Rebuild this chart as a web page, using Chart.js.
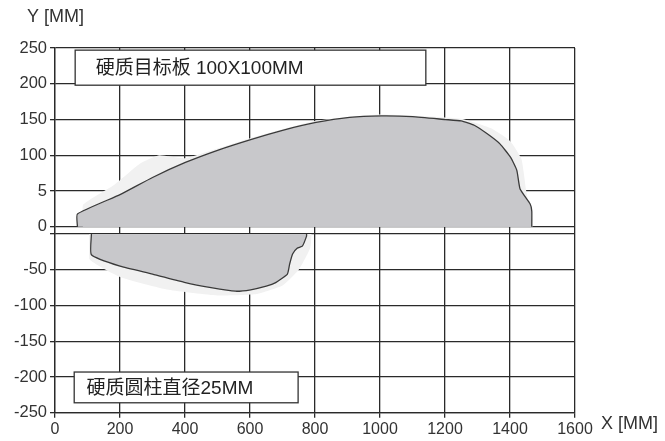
<!DOCTYPE html>
<html>
<head>
<meta charset="utf-8">
<script src="https://cdn.jsdelivr.net/npm/chart.js@4.4.1/dist/chart.umd.min.js"></script>
<style>
  html,body{margin:0;padding:0;background:#fff}
  #wrap{width:665px;height:441px}
</style>
</head>
<body>
<div id="wrap"><canvas id="c" width="665" height="441"></canvas></div>
<script>
// outline of the plate zone (upper half), mm
const topX=[69,69,200,300,401,500,602,700,803,906,1004,1100,1201,1250,1290,1330,1369,1402,1421,1431,1462,1467,1467]
const topY=[0,18,45,69,90,107,122,135,146,153,155,154,150,148,142,130,116,97,79,53,32,22,0]
// outline of the cylinder zone (lower half), mm
const botX=[112,112,200,300,401,480,555,602,650,679,715,722,731,745,761,774,774]
const botY=[0,-29,-45,-56,-68,-75,-80,-78,-73,-68,-56,-42,-28,-20,-17,-3,0]
// faint halo around the zones
const haloTopX=[85,85,180,260,320,400,600,800,1000,1250,1340,1400,1435,1450,1470]
const haloTopY=[0,30,58,88,100,96,124,148,157,151,138,120,95,50,0]
const haloBotX=[105,105,200,350,500,620,700,750,785,790]
const haloBotY=[0,-35,-60,-78,-86,-84,-72,-50,-20,0]

const xTicks=[0,200,400,600,800,1000,1200,1400,1600]
const yTopTicks=[0,50,100,150,200,250]
const yTopLabels=['0','5','100','150','200','250']
const yBotTicks=[-250,-200,-150,-100,-50,0]
const yBotLabels=['-250','-200','-150','-100','-50','']

const pts=(xs,ys)=>xs.map((x,i)=>({x:x,y:ys[i]}))

const FONT='"Liberation Sans", Arial, "Noto Sans CJK SC", sans-serif'
const GRID='#2a2a2a'

const extras={
    id:'extras',
    afterDraw(chart){
        const c=chart.ctx
        const sx=chart.scales.x, yt=chart.scales.yTop, yb=chart.scales.yBot
        c.save()
        // note boxes
        const box=(x0,x1,y0,y1,ys,text,tx)=>{
            const l=sx.getPixelForValue(x0), r=sx.getPixelForValue(x1)
            const t=ys.getPixelForValue(y0), b=ys.getPixelForValue(y1)
            c.fillStyle='#fff'
            c.fillRect(l,t,r-l,b-t)
            c.strokeStyle='#333'
            c.lineWidth=1.3
            c.strokeRect(l,t,r-l,b-t)
            c.fillStyle='#222'
            c.font='19px '+FONT
            c.textBaseline='middle'
            c.textAlign='left'
            c.fillText(text,sx.getPixelForValue(tx),(t+b)/2+1)
        }
        box(62,1141,247,198,yt,'硬质目标板 100X100MM',125)
        box(59,748,-193,-236,yb,'硬质圆柱直径25MM',97)
        // axis titles
        c.fillStyle='#333'
        c.font='18px '+FONT
        c.textBaseline='middle'
        c.textAlign='left'
        c.fillText('Y [MM]',27,17)
        c.fillText('X [MM]',601,424)
        c.restore()
    }
}

const shape=(xs,ys,axis,fill,line,order)=>({
    data:pts(xs,ys),
    yAxisID:axis,
    showLine:true,
    pointRadius:0,
    borderColor:line,
    borderWidth:line==='transparent'?0:1.3,
    backgroundColor:fill,
    fill:'origin',
    tension:0.15,
    order:order
})

const tickFont={family:FONT,size:16.5}

new Chart(document.getElementById('c').getContext('2d'),{
    type:'scatter',
    data:{
        datasets:[
            shape(haloTopX,haloTopY,'yTop','#f1f1f1','transparent',3),
            shape(haloBotX,haloBotY,'yBot','#f1f1f1','transparent',3),
            shape(topX,topY,'yTop','#c8c8cb','#3a3a3a',1),
            shape(botX,botY,'yBot','#c8c8cb','#3a3a3a',1)
        ]
    },
    options:{
        responsive:false,
        animation:false,
        layout:{padding:{left:11,right:90,top:48,bottom:0}},
        plugins:{legend:{display:false},tooltip:{enabled:false}},
        scales:{
            x:{
                type:'linear',min:0,max:1600,
                afterBuildTicks:s=>{s.ticks=xTicks.map(v=>({value:v}))},
                grid:{color:GRID,lineWidth:1.3,tickLength:5},
                border:{color:GRID,width:1.3},
                ticks:{color:'#333',font:{family:FONT,size:16},padding:2,autoSkip:false,maxRotation:0,
                    callback:v=>String(v)}
            },
            yTop:{
                type:'linear',position:'left',stack:'left',stackWeight:260,weight:2,
                min:-10,max:250,
                afterBuildTicks:s=>{s.ticks=yTopTicks.map(v=>({value:v}))},
                grid:{color:GRID,lineWidth:1.3,tickLength:5},
                border:{color:GRID,width:1.3},
                ticks:{color:'#333',font:tickFont,padding:3,autoSkip:false,
                    callback:v=>yTopLabels[yTopTicks.indexOf(v)]}
            },
            yBot:{
                type:'linear',position:'left',stack:'left',stackWeight:250,weight:1,
                min:-250,max:0,
                afterBuildTicks:s=>{s.ticks=yBotTicks.map(v=>({value:v}))},
                grid:{color:GRID,lineWidth:1.3,tickLength:5},
                border:{color:GRID,width:1.3},
                ticks:{color:'#333',font:tickFont,padding:3,autoSkip:false,
                    callback:v=>yBotLabels[yBotTicks.indexOf(v)]}
            }
        }
    },
    plugins:[extras]
})
</script>
</body>
</html>
